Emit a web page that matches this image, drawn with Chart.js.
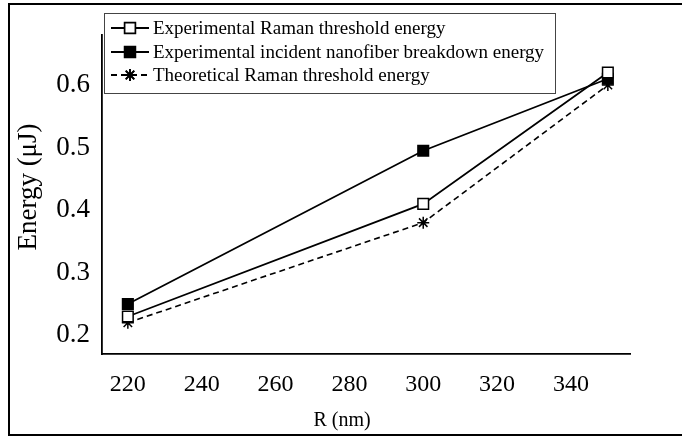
<!DOCTYPE html>
<html>
<head>
<meta charset="utf-8">
<script src="https://cdn.jsdelivr.net/npm/chart.js@4"></script>
<style>
  html, body { margin: 0; padding: 0; background: #fff; }
  #wrap { width: 682px; height: 439px; position: relative; }
</style>
</head>
<body>
<div id="wrap"><canvas id="chart"></canvas></div>
<script>
const radius = [220, 300, 350];
const ramanExp = [0.23, 0.41, 0.62];
const breakdownExp = [0.25, 0.495, 0.61];
const ramanTheory = [0.22, 0.38, 0.60];
const xTicks = [220, 240, 260, 280, 300, 320, 340];
const yTicks = [0.2, 0.3, 0.4, 0.5, 0.6];
const labels = [
    'Experimental Raman threshold energy',
    'Experimental incident nanofiber breakdown energy',
    'Theoretical Raman threshold energy'
];
const xTitle = 'R (nm)';
const yTitle = 'Energy (μJ)';

const SERIF = '"Liberation Serif", "DejaVu Serif", serif';

function toPoints(ys) {
    return radius.map((x, i) => ({ x: x, y: ys[i] }));
}

// outer frame, axis titles and boxed legend drawn by hand
const framePlugin = {
    id: 'frame',
    afterDraw(chart) {
        const ctx = chart.ctx;
        ctx.save();
        ctx.strokeStyle = '#000';
        ctx.lineWidth = 2;
        ctx.strokeRect(9, 4, 690, 431);

        ctx.fillStyle = '#000';
        ctx.textAlign = 'center';
        ctx.textBaseline = 'middle';
        ctx.font = '20px ' + SERIF;
        ctx.fillText(xTitle, 342, 421);
        ctx.save();
        ctx.translate(29, 187);
        ctx.rotate(-Math.PI / 2);
        ctx.font = '27px ' + SERIF;
        ctx.fillText(yTitle, 0, 0);
        ctx.restore();
        ctx.textAlign = 'left';

        // legend box
        const bx = 104, by = 13, bw = 451, bh = 80;
        ctx.fillStyle = '#fff';
        ctx.fillRect(bx, by, bw, bh);
        ctx.strokeStyle = '#444';
        ctx.lineWidth = 1;
        ctx.strokeRect(bx + 0.5, by + 0.5, bw, bh);

        const rows = [28, 52, 75];
        chart.data.datasets.forEach((ds, i) => {
            const y = rows[i];
            ctx.strokeStyle = '#000';
            ctx.lineWidth = 1.8;
            ctx.setLineDash(ds.borderDash || []);
            ctx.beginPath();
            ctx.moveTo(111, y);
            ctx.lineTo(149, y);
            ctx.stroke();
            ctx.setLineDash([]);
            Chart.helpers.drawPoint(ctx, {
                pointStyle: ds.pointStyle,
                radius: ds.pointRadius,
                borderWidth: ds.pointBorderWidth
            }, 130, y);
            ctx.fillStyle = ds.pointBackgroundColor;
            ctx.strokeStyle = '#000';
            ctx.lineWidth = ds.pointBorderWidth;
            if (ds.pointStyle !== 'star') ctx.fill();
            ctx.stroke();
            ctx.fillStyle = '#000';
            ctx.font = '19px ' + SERIF;
            ctx.textBaseline = 'middle';
            ctx.fillText(ds.label, 153, y + 1);
        });
        ctx.restore();
    }
};

const ctx = document.getElementById('chart').getContext('2d');
new Chart(ctx, {
    type: 'line',
    data: {
        datasets: [
            {
                label: labels[0],
                data: toPoints(ramanExp),
                borderColor: '#000', borderWidth: 1.8,
                pointStyle: 'rect', pointRadius: 7.5,
                pointBackgroundColor: '#fff', pointBorderColor: '#000', pointBorderWidth: 1.5
            },
            {
                label: labels[1],
                data: toPoints(breakdownExp),
                borderColor: '#000', borderWidth: 1.8,
                pointStyle: 'rect', pointRadius: 7.5,
                pointBackgroundColor: '#000', pointBorderColor: '#000', pointBorderWidth: 1.5
            },
            {
                label: labels[2],
                data: toPoints(ramanTheory),
                borderColor: '#000', borderWidth: 1.6, borderDash: [6, 4],
                pointStyle: 'star', pointRadius: 6,
                pointBackgroundColor: '#000', pointBorderColor: '#000', pointBorderWidth: 1.5
            }
        ]
    },
    options: {
        responsive: true,
        maintainAspectRatio: false,
        animation: false,
        layout: { padding: { left: 0, top: 35, right: 52, bottom: 0 } },
        plugins: { legend: { display: false }, tooltip: { enabled: false } },
        scales: {
            x: {
                type: 'linear',
                min: 213, max: 356,
                afterBuildTicks: (s) => { s.ticks = xTicks.map(v => ({ value: v })); },
                afterFit: (s) => { s.height = 85; },
                grid: { display: false, drawOnChartArea: false, drawTicks: true, tickLength: 8, tickColor: '#000', tickWidth: 1.5 },
                border: { display: true, color: '#000', width: 1.8 },
                ticks: { color: '#000', font: { family: SERIF, size: 24 }, padding: 8, maxRotation: 0 },
                title: { display: false }
            },
            y: {
                min: 0.17, max: 0.68,
                afterBuildTicks: (s) => { s.ticks = yTicks.map(v => ({ value: v })); },
                afterFit: (s) => { s.width = 102; },
                grid: { display: false, drawOnChartArea: false, drawTicks: true, tickLength: 8, tickColor: '#000', tickWidth: 1.5 },
                border: { display: true, color: '#000', width: 1.8 },
                ticks: { color: '#000', font: { family: SERIF, size: 27 }, padding: 4, callback: (v) => v.toFixed(1) },
                title: { display: false }
            }
        }
    },
    plugins: [framePlugin]
});
</script>
</body>
</html>
